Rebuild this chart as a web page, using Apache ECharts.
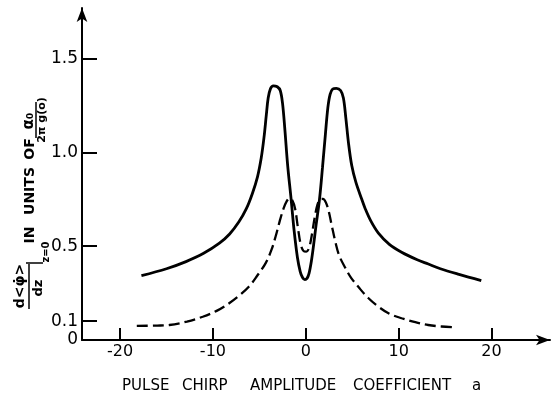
<!DOCTYPE html>
<html>
<head>
<meta charset="utf-8">
<script src="https://cdn.jsdelivr.net/npm/echarts@6/dist/echarts.min.js"></script>
<style>
html,body{margin:0;padding:0;background:#fff;}
#chart{width:552px;height:396px;}
</style>
</head>
<body>
<div id="chart"></div>
<script>
// ---- data ----
const solidX = [-17.7,-15.0,-12.9,-11.0,-9.3,-8.2,-7.2,-6.4,-5.76,-5.2,-4.8,-4.5,-4.25,-4.05,-3.8,-3.5,-3.07,-2.75,-2.5,-2.25,-1.95,-1.58,-1.25,-0.9,-0.6,-0.35,-0.1,0.15,0.35,0.6,0.85,1.1,1.47,1.8,2.1,2.38,2.62,2.9,3.3,3.75,4.05,4.3,4.6,4.95,5.4,6.03,6.4,7.0,7.82,9.0,10.32,12.0,13.2,14.5,16.5,18.9];
const solidY = [0.343,0.38,0.418,0.462,0.516,0.565,0.63,0.70,0.78,0.87,0.97,1.08,1.20,1.29,1.34,1.355,1.35,1.33,1.26,1.12,0.93,0.751,0.58,0.44,0.365,0.333,0.322,0.33,0.355,0.42,0.51,0.61,0.747,0.92,1.09,1.24,1.31,1.338,1.342,1.33,1.29,1.19,1.05,0.93,0.84,0.75,0.70,0.635,0.57,0.51,0.468,0.428,0.405,0.38,0.35,0.317];
const dashX = [-18.2,-16.0,-14.7,-12.8,-11.1,-9.5,-8.25,-7.1,-6.11,-5.2,-4.32,-3.7,-3.25,-2.8,-2.4,-2.05,-1.75,-1.45,-1.15,-0.85,-0.55,-0.25,0.05,0.35,0.65,0.95,1.25,1.55,1.85,2.15,2.45,2.8,3.2,3.6,4.25,4.9,5.68,6.7,7.82,9.0,10.32,11.8,13.18,14.6,16.0];
const dashY = [0.075,0.077,0.080,0.098,0.124,0.158,0.196,0.24,0.285,0.345,0.41,0.48,0.552,0.635,0.70,0.74,0.755,0.745,0.70,0.60,0.51,0.475,0.471,0.49,0.56,0.65,0.72,0.75,0.752,0.735,0.69,0.61,0.52,0.45,0.385,0.33,0.282,0.225,0.178,0.14,0.116,0.095,0.080,0.072,0.068];
const xTickValues = [-20,-10,0,10,20];
const xTickLabels = ['-20','-10','0','10','20'];
const yTickValues = [0,0.1,0.5,1.0,1.5];
const yTickLabels = ['0','0.1','0.5','1.0','1.5'];
const xNameWords = ['PULSE','CHIRP','AMPLITUDE','COEFFICIENT','a'];

const zip = (xs, ys) => xs.map((x, i) => [x, ys[i]]);
const FAMILY = 'DejaVu Sans';

const chart = echarts.init(document.getElementById('chart'), null, {renderer: 'canvas'});

const wordX = [122, 182, 250, 353, 472];
const rot = Math.PI / 2;
const graphics = [];
xNameWords.forEach((w, i) => {
  graphics.push({type: 'text', x: wordX[i], y: 386, style: {text: w, fontSize: 15, fontFamily: FAMILY, fill: '#000', align: 'left', verticalAlign: 'middle'}});
});
// rotated y-axis title pieces
const rtext = (t, x, y, size, weight) => ({type: 'text', x: x, y: y, rotation: rot, style: {text: t, fontSize: size, fontFamily: FAMILY, fontWeight: weight || 'normal', fill: '#000', align: 'center', verticalAlign: 'middle'}});
const rline = (x1, y1, x2, y2) => ({type: 'line', shape: {x1: x1, y1: y1, x2: x2, y2: y2}, style: {stroke: '#000', lineWidth: 1.5}});
graphics.push(
  rtext('d<\u03C6\u0307>', 20, 286, 14, 'bold'),
  rline(29, 264, 29, 309),
  rtext('dz', 39, 288, 13, 'bold'),
  rline(26, 263, 43, 263),
  rtext('z=0', 46, 252, 10, 'bold'),
  rtext('IN', 30, 235, 14, 'bold'),
  rtext('UNITS', 30, 191, 14, 'bold'),
  rtext('OF', 30, 149, 14, 'bold'),
  rtext('\u03B1\u2080', 29, 121, 15, 'bold'),
  rline(36, 102, 36, 138),
  rtext('2\u03C0 g(o)', 42, 120, 11, 'bold')
);

chart.setOption({
  animation: false,
  backgroundColor: '#fff',
  grid: {left: 82, right: 2, top: 8, bottom: 56},
  xAxis: {
    type: 'value', min: -24.1, max: 26.3,
    axisLine: {show: true, onZero: false, symbol: ['none', 'arrow'], symbolSize: [8, 14], lineStyle: {color: '#000', width: 2}},
    axisTick: {show: true, inside: true, length: 12, customValues: xTickValues, lineStyle: {color: '#000', width: 2}},
    axisLabel: {customValues: xTickValues, formatter: function (v) { const i = xTickValues.indexOf(v); return i >= 0 ? xTickLabels[i] : ''; }, color: '#000', fontSize: 16, fontFamily: FAMILY, margin: 4},
    splitLine: {show: false}
  },
  yAxis: {
    type: 'value', min: 0, max: 1.77,
    axisLine: {show: true, onZero: false, symbol: ['none', 'arrow'], symbolSize: [8, 14], lineStyle: {color: '#000', width: 2}},
    axisTick: {show: true, inside: true, length: 15, customValues: yTickValues, lineStyle: {color: '#000', width: 2}},
    axisLabel: {customValues: yTickValues, formatter: function (v) { const i = yTickValues.findIndex(t => Math.abs(t - v) < 1e-9); return i >= 0 ? yTickLabels[i] : ''; }, color: '#000', fontSize: 17, fontFamily: FAMILY, margin: 4},
    splitLine: {show: false}
  },
  series: [
    {type: 'line', data: zip(solidX, solidY), showSymbol: false, smooth: 0.35, lineStyle: {color: '#000', width: 2.8}},
    {type: 'line', data: zip(dashX, dashY), showSymbol: false, smooth: 0.35, lineStyle: {color: '#000', width: 2.3, type: [11, 5]}}
  ],
  graphic: graphics
});
</script>
</body>
</html>
